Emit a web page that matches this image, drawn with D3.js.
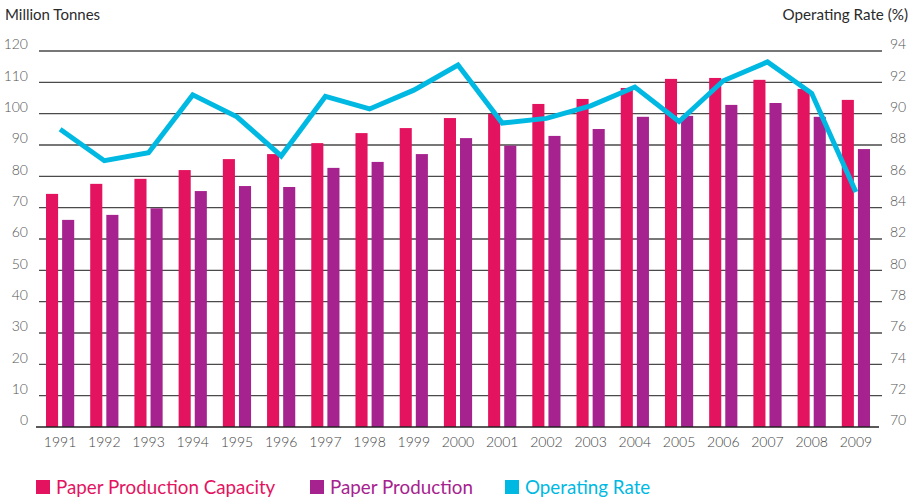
<!DOCTYPE html>
<html>
<head>
<meta charset="utf-8">
<script src="https://cdn.jsdelivr.net/npm/d3@7"></script>
<style>
  body { margin: 0; background: #fff; }
  svg { display: block; }
  text { font-family: Lato, "Open Sans", sans-serif; }
</style>
</head>
<body>
<svg id="chart" width="920" height="498"></svg>
<script>
const years = ["1991","1992","1993","1994","1995","1996","1997","1998","1999","2000",
               "2001","2002","2003","2004","2005","2006","2007","2008","2009"];
const capacity = [74.4, 77.6, 79.2, 82.0, 85.5, 87.1, 90.6, 93.8, 95.4, 98.6,
                  99.9, 103.1, 104.7, 108.2, 111.1, 111.4, 110.8, 107.9, 104.4];
const production = [66.1, 67.7, 69.8, 75.3, 76.9, 76.6, 82.7, 84.6, 87.1, 92.2,
                    89.8, 92.9, 95.1, 99.0, 99.3, 102.8, 103.4, 99.0, 88.7];
const operatingRate = [89.0, 87.0, 87.5, 91.2, 89.8, 87.3, 91.1, 90.3, 91.5, 93.1,
                       89.4, 89.7, 90.5, 91.7, 89.5, 92.1, 93.3, 91.3, 85.0];
const leftTicks = [0,10,20,30,40,50,60,70,80,90,100,110,120];
const rightTicks = [70,72,74,76,78,80,82,84,86,88,90,92,94];
const seriesNames = ["Paper Production Capacity", "Paper Production", "Operating Rate"];
const colors = ["#e4135f", "#a6228e", "#00b9e2"];

const svg = d3.select("#chart");
const plotTop = 51, plotBottom = 427;

const x = d3.scaleBand().domain(years).range([38, 878]).paddingInner(0.362).paddingOuter(0.181);
const x1 = d3.scaleBand().domain([0, 1]).range([0, x.bandwidth()]).paddingInner(0.25);
const yL = d3.scaleLinear().domain([0, 120]).range([plotBottom, plotTop]);
const yR = d3.scaleLinear().domain([70, 94]).range([plotBottom, plotTop]);

// gridlines
svg.append("g").selectAll("line").data(leftTicks.filter(d => d > 0)).join("line")
  .attr("x1", 39).attr("x2", 882)
  .attr("y1", d => yL(d)).attr("y2", d => yL(d))
  .attr("stroke", "#4a4a4a").attr("stroke-width", 1.4);

// left tick labels
svg.append("g").selectAll("text").data(leftTicks).join("text")
  .attr("x", 28).attr("y", d => yL(d) - 5)
  .attr("text-anchor", "end").attr("dominant-baseline", "middle")
  .attr("font-size", 14).attr("fill", "#555").attr("font-weight", 300)
  .text(d => d);

// right tick labels
svg.append("g").selectAll("text").data(rightTicks).join("text")
  .attr("x", 890).attr("y", d => yR(d) - 5)
  .attr("text-anchor", "start").attr("dominant-baseline", "middle")
  .attr("font-size", 14).attr("fill", "#555").attr("font-weight", 300)
  .text(d => d);

// axis titles
svg.append("text").attr("x", 5).attr("y", 20).attr("font-size", 15).attr("fill", "#2a2a2a")
  .text("Million Tonnes");
svg.append("text").attr("x", 908).attr("y", 20).attr("font-size", 15.2).attr("fill", "#2a2a2a")
  .attr("text-anchor", "end").text("Operating Rate (%)");

// bars
const groups = svg.append("g").selectAll("g").data(years).join("g")
  .attr("transform", d => `translate(${x(d)},0)`);
groups.append("rect")
  .attr("x", x1(0)).attr("width", x1.bandwidth())
  .attr("y", (d, i) => yL(capacity[i])).attr("height", (d, i) => yL(0) - yL(capacity[i]))
  .attr("fill", colors[0]);
groups.append("rect")
  .attr("x", x1(1)).attr("width", x1.bandwidth())
  .attr("y", (d, i) => yL(production[i])).attr("height", (d, i) => yL(0) - yL(production[i]))
  .attr("fill", colors[1]);

// baseline
svg.append("line").attr("x1", 36).attr("x2", 879).attr("y1", yL(0)).attr("y2", yL(0))
  .attr("stroke", "#222").attr("stroke-width", 1.6);

// year labels
svg.append("g").selectAll("text").data(years).join("text")
  .attr("x", d => x(d) + x.bandwidth() / 2).attr("y", 444)
  .attr("text-anchor", "middle").attr("dominant-baseline", "middle")
  .attr("font-size", 14).attr("fill", "#444").attr("font-weight", 300)
  .text(d => d);

// operating rate line
const line = d3.line()
  .x((d, i) => x(years[i]) + x.bandwidth() / 2)
  .y(d => yR(d));
svg.append("path").datum(operatingRate).attr("d", line)
  .attr("fill", "none").attr("stroke", colors[2]).attr("stroke-width", 5)
  .attr("stroke-linejoin", "miter");

// legend
const legendX = [36, 310, 505];
const lg = svg.append("g").selectAll("g").data(seriesNames).join("g")
  .attr("transform", (d, i) => `translate(${legendX[i]},480)`);
lg.append("rect").attr("width", 14).attr("height", 14).attr("fill", (d, i) => colors[i]);
lg.append("text").attr("x", 20).attr("y", 14)
  .attr("font-size", 18.8).attr("fill", (d, i) => colors[i])
  .text(d => d);
</script>
</body>
</html>
